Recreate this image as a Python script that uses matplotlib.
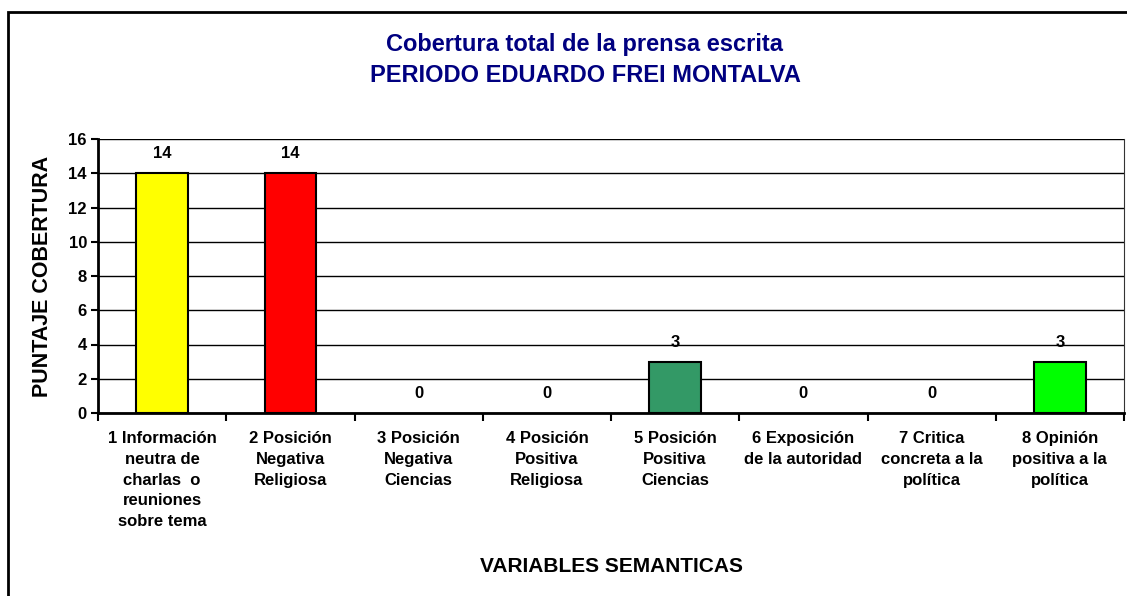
import matplotlib.pyplot as plt
from matplotlib.patches import Rectangle

plt.rcParams['font.family'] = ['Liberation Sans', 'DejaVu Sans']

# datos del grafico
categorias = [
    '1 Información\nneutra de\ncharlas  o\nreuniones\nsobre tema',
    '2 Posición\nNegativa\nReligiosa',
    '3 Posición\nNegativa\nCiencias',
    '4 Posición\nPositiva\nReligiosa',
    '5 Posición\nPositiva\nCiencias',
    '6 Exposición\nde la autoridad',
    '7 Critica\nconcreta a la\npolítica',
    '8 Opinión\npositiva a la\npolítica',
]
valores = [14, 14, 0, 0, 3, 0, 0, 3]
colores = ['#FFFF00', '#FF0000', '#FFFFFF', '#FFFFFF', '#339966', '#FFFFFF', '#FFFFFF', '#00FF00']
y_ticks = [0, 2, 4, 6, 8, 10, 12, 14, 16]

fig = plt.figure(figsize=(11.27, 5.96), dpi=100)
ax = fig.add_axes([98 / 1127, 1 - 413 / 596, (1124 - 98) / 1127, (413 - 139) / 596])

# borde exterior
fig.patches.append(Rectangle((7.5 / 1127, -0.05), 1.1, 1 - 12.5 / 596 + 0.05,
                             transform=fig.transFigure, fill=False,
                             edgecolor='black', linewidth=2))

x = list(range(1, len(valores) + 1))
for xi, v, c in zip(x, valores, colores):
    if v > 0:
        ax.bar(xi, v, width=0.4, color=c, edgecolor='black', linewidth=1.5, zorder=3)
    ax.annotate(str(v), (xi, v), xytext=(0, 14), textcoords='offset points',
                ha='center', va='center', fontsize=12, fontweight='bold', zorder=4)

ax.set_xlim(0.5, 8.5)
ax.set_ylim(0, 16)
ax.set_yticks(y_ticks)
ax.set_yticklabels([str(t) for t in y_ticks], fontsize=12, fontweight='bold')
ax.grid(axis='y', color='black', linewidth=1, zorder=0)

ax.set_xticks([i + 0.5 for i in range(0, 9)])
ax.set_xticklabels([])
ax.set_xticks(x, minor=True)
ax.set_xticklabels(categorias, minor=True, fontsize=12, fontweight='bold', linespacing=1.48)
ax.tick_params(axis='x', which='minor', length=0, pad=13)
ax.tick_params(axis='x', which='major', direction='out', length=6, width=1.5)
ax.tick_params(axis='y', direction='out', length=5, width=1.5, pad=3)

for s in ['left', 'bottom']:
    ax.spines[s].set_linewidth(2)
ax.spines['top'].set_visible(False)
ax.spines['right'].set_color('#333333')

ax.set_ylabel('PUNTAJE COBERTURA', fontsize=15.5, fontweight='bold')
ax.yaxis.set_label_coords(-45 / 1026, 0.5)
fig.text(612 / 1127, 1 - 566 / 596, 'VARIABLES SEMANTICAS', ha='center', va='center',
         fontsize=15, fontweight='bold')

fig.text(585 / 1127, 1 - 44 / 596, 'Cobertura total de la prensa escrita',
         ha='center', va='center', fontsize=17, fontweight='bold', color='#000080')
fig.text(585 / 1127, 1 - 75 / 596, 'PERIODO EDUARDO FREI MONTALVA',
         ha='center', va='center', fontsize=17, fontweight='bold', color='#000080')

fig.savefig('out.png', dpi=100)
